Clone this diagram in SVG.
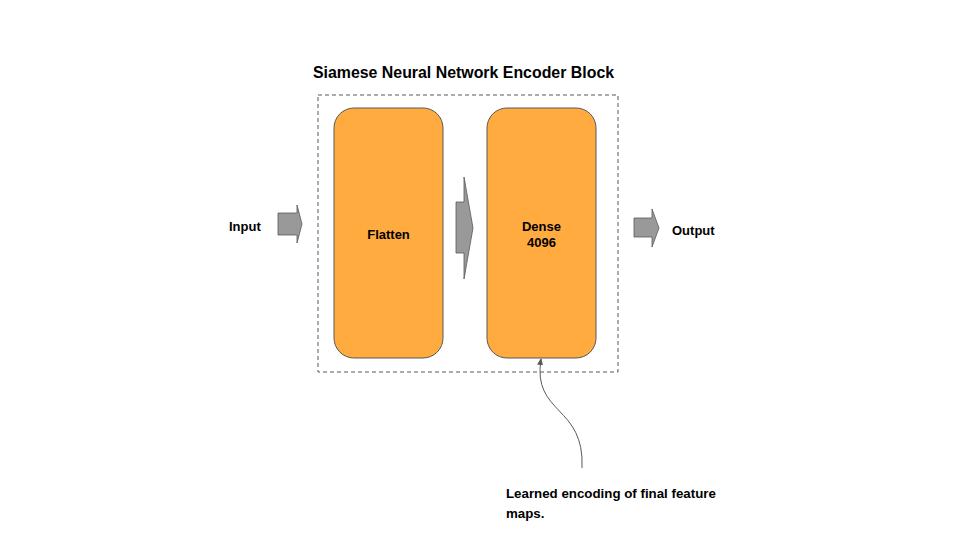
<svg xmlns="http://www.w3.org/2000/svg" width="960" height="540" viewBox="0 0 960 540">
<style>
text{font-family:"Liberation Sans",Arial,sans-serif;font-weight:bold;fill:#000}
.lbl{font-size:13px}
.blk{fill:#ffab40;stroke:#595959;stroke-width:1}
.arr{fill:#999999;stroke:#595959;stroke-width:0.8}
</style>
<defs>
<marker id="ah" markerWidth="8" markerHeight="8" refX="6" refY="4" orient="auto" markerUnits="userSpaceOnUse">
<path d="M0,1 L7,4 L0,7 Z" fill="#595959"/>
</marker>
</defs>
<rect width="960" height="540" fill="#fff"/>
<text x="463.5" y="78" font-size="15.9" text-anchor="middle">Siamese Neural Network Encoder Block</text>
<g id="container">
<rect x="318" y="95" width="300" height="277" fill="none" stroke="#595959" stroke-width="1" stroke-dasharray="4,3"/>
</g>
<g id="flatten">
<rect class="blk" x="334" y="108" width="109" height="250" rx="20"/>
<text class="lbl" x="388.5" y="239" text-anchor="middle">Flatten</text>
</g>
<g id="dense">
<rect class="blk" x="487" y="108" width="109" height="250" rx="20"/>
<text class="lbl" x="541.5" y="231" text-anchor="middle">Dense</text>
<text class="lbl" x="541.5" y="247" text-anchor="middle">4096</text>
</g>
<g id="input">
<text class="lbl" x="229" y="231">Input</text>
</g>
<g id="output">
<text class="lbl" x="672" y="235">Output</text>
</g>
<g id="note">
<text x="506" y="498" font-size="13.3">Learned encoding of final feature</text>
<text x="506" y="518" font-size="13.3">maps.</text>
</g>
<g id="connectors">
<path class="arr" d="M278,213 H297 V205 L302,224 L297,243 V235 H278 Z"/>
<path class="arr" d="M456,202 H464 V177 L473,228 L464,279 V253 H456 Z"/>
<path class="arr" d="M634,218 H652 V209 L659,228 L652,247 V237 H634 Z"/>
<path d="M582,468 C585,405 532,415 541,359" fill="none" stroke="#595959" stroke-width="1" marker-end="url(#ah)"/>
</g>
</svg>
